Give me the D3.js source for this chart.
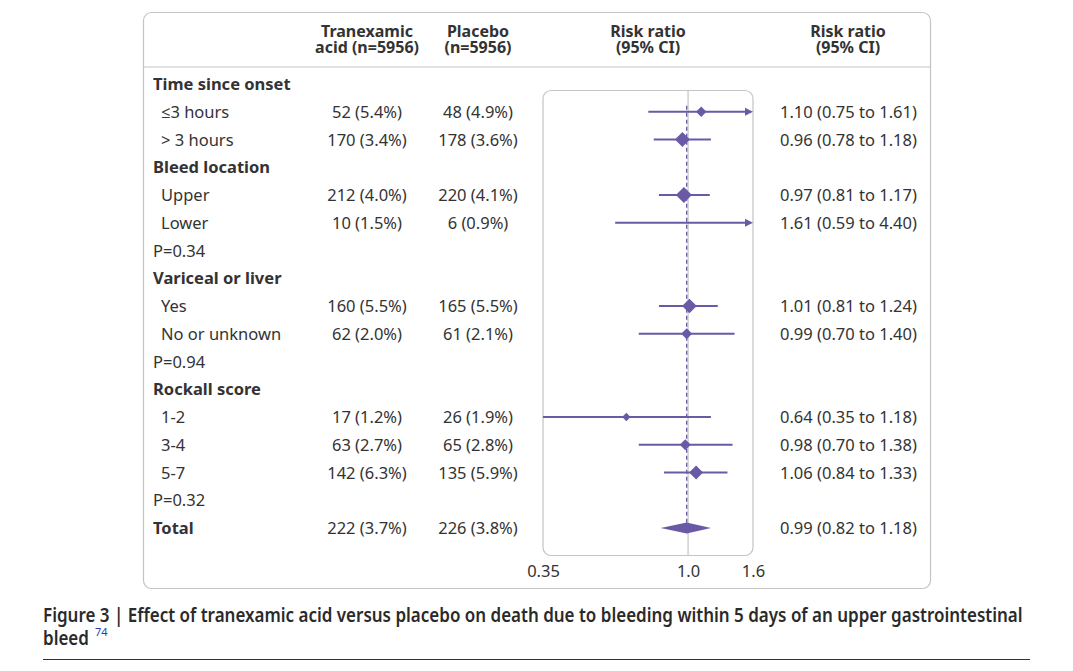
<!DOCTYPE html>
<html>
<head>
<meta charset="utf-8">
<script src="https://cdn.jsdelivr.net/npm/d3@7"></script>
<style>
  body { margin: 0; background: #fff; }
  svg text { font-family: "Noto Sans", "Open Sans", sans-serif; fill: #333; }
</style>
</head>
<body>
<div id="chart"></div>
<script>
// table rows, top to bottom
const labels = ["Time since onset", "≤3 hours", "> 3 hours", "Bleed location", "Upper", "Lower", "P=0.34",
  "Variceal or liver", "Yes", "No or unknown", "P=0.94", "Rockall score", "1-2", "3-4", "5-7", "P=0.32", "Total"];
const rowTypes = ["head", "sub", "sub", "head", "sub", "sub", "p",
  "head", "sub", "sub", "p", "head", "sub", "sub", "sub", "p", "total"];
const tranexamic = ["", "52 (5.4%)", "170 (3.4%)", "", "212 (4.0%)", "10 (1.5%)", "",
  "", "160 (5.5%)", "62 (2.0%)", "", "", "17 (1.2%)", "63 (2.7%)", "142 (6.3%)", "", "222 (3.7%)"];
const placebo = ["", "48 (4.9%)", "178 (3.6%)", "", "220 (4.1%)", "6 (0.9%)", "",
  "", "165 (5.5%)", "61 (2.1%)", "", "", "26 (1.9%)", "65 (2.8%)", "135 (5.9%)", "", "226 (3.8%)"];
const rr = [null, 1.10, 0.96, null, 0.97, 1.61, null, null, 1.01, 0.99, null, null, 0.64, 0.98, 1.06, null, 0.99];
const lower = [null, 0.75, 0.78, null, 0.81, 0.59, null, null, 0.81, 0.70, null, null, 0.35, 0.70, 0.84, null, 0.82];
const upper = [null, 1.61, 1.18, null, 1.17, 4.40, null, null, 1.24, 1.40, null, null, 1.18, 1.38, 1.33, null, 1.18];
const tickValues = [0.35, 1.0, 1.6];

const W = 1073, H = 671;
const purple = "#6a5aa6";
const fmt = d3.format(".2f");
const fs = 16.5;

const svg = d3.select("#chart").append("svg")
  .attr("width", W)
  .attr("height", H);

// outer frame
svg.append("rect")
  .attr("x", 143.5).attr("y", 12.5)
  .attr("width", 787).attr("height", 576)
  .attr("rx", 8)
  .attr("fill", "none")
  .attr("stroke", "#c4c4c4")
  .attr("stroke-width", 1.2);

svg.append("line")
  .attr("x1", 144).attr("x2", 930)
  .attr("y1", 67).attr("y2", 67)
  .attr("stroke", "#c4c4c4")
  .attr("stroke-width", 1.2);

// column headers
const headers = [
  { x: 367, lines: ["Tranexamic", "acid (n=5956)"] },
  { x: 478, lines: ["Placebo", "(n=5956)"] },
  { x: 648, lines: ["Risk ratio", "(95% CI)"] },
  { x: 848, lines: ["Risk ratio", "(95% CI)"] }
];
headers.forEach(h => {
  const t = svg.append("text")
    .attr("y", 37)
    .attr("text-anchor", "middle")
    .attr("font-size", 16)
    .attr("font-weight", "bold");
  h.lines.forEach((line, i) => {
    t.append("tspan")
      .attr("x", h.x)
      .attr("dy", i === 0 ? 0 : 16)
      .text(line);
  });
});

const y = d3.scaleLinear().domain([0, labels.length - 1]).range([84, 528]);
const x = d3.scaleLog().domain([0.35, 1.6]).range([543, 753]);

// plot box
svg.append("rect")
  .attr("x", 543).attr("y", 90.5)
  .attr("width", 210).attr("height", 465)
  .attr("rx", 8)
  .attr("fill", "none")
  .attr("stroke", "#c4c4c4")
  .attr("stroke-width", 1.2);

svg.append("line")
  .attr("x1", x(1)).attr("x2", x(1))
  .attr("y1", 91).attr("y2", 555)
  .attr("stroke", "#c4c4c4")
  .attr("stroke-width", 1.2);

// overall estimate reference
svg.append("line")
  .attr("x1", x(rr[16])).attr("x2", x(rr[16]))
  .attr("y1", y(1) - 6).attr("y2", y(16))
  .attr("stroke", purple)
  .attr("stroke-width", 1.3)
  .attr("stroke-dasharray", "4,3");

// text columns
const rows = labels.map((d, i) => ({ i, label: d, type: rowTypes[i] }));
svg.selectAll(".label")
  .data(rows)
  .enter().append("text")
  .attr("class", "label")
  .attr("x", d => d.type === "sub" ? 161 : 153)
  .attr("y", d => y(d.i) + 6)
  .attr("font-size", fs)
  .attr("font-weight", d => (d.type === "head" || d.type === "total") ? "bold" : "normal")
  .text(d => d.label);

svg.selectAll(".tx")
  .data(tranexamic)
  .enter().append("text")
  .attr("x", 367)
  .attr("y", (d, i) => y(i) + 6)
  .attr("text-anchor", "middle")
  .attr("font-size", fs)
  .text(d => d);

svg.selectAll(".pl")
  .data(placebo)
  .enter().append("text")
  .attr("x", 478)
  .attr("y", (d, i) => y(i) + 6)
  .attr("text-anchor", "middle")
  .attr("font-size", fs)
  .text(d => d);

svg.selectAll(".rrtext")
  .data(rr)
  .enter().append("text")
  .attr("x", 780)
  .attr("y", (d, i) => y(i) + 6)
  .attr("font-size", fs)
  .text((d, i) => d == null ? "" : `${fmt(d)} (${fmt(lower[i])} to ${fmt(upper[i])})`);

// forest marks
const est = rr.map((d, i) => ({ i, rr: d, lo: lower[i], hi: upper[i] }))
  .filter(d => d.rr != null && rowTypes[d.i] !== "total");

// marker size from precision of each estimate
const prec = d => 1 / Math.log(d.hi / d.lo);
const size = d3.scaleLinear().domain([0.8, 2.7]).range([4.2, 8]).clamp(true);

const [xMin, xMax] = x.domain();
const g = svg.append("g");

est.forEach(d => {
  const yy = y(d.i);
  const x1 = x(Math.max(d.lo, xMin)), x2 = x(Math.min(d.hi, xMax));
  g.append("line")
    .attr("x1", x1).attr("x2", d.hi > xMax ? x2 - 5 : x2)
    .attr("y1", yy).attr("y2", yy)
    .attr("stroke", purple)
    .attr("stroke-width", 1.8);
  if (d.hi > xMax) {
    g.append("path")
      .attr("d", `M${x2},${yy} L${x2 - 8},${yy - 4} L${x2 - 8},${yy + 4} Z`)
      .attr("fill", purple);
  }
  if (d.rr <= xMax && d.rr >= xMin) {
    const s = size(prec(d));
    const cx = x(d.rr);
    g.append("path")
      .attr("d", `M${cx - s},${yy} L${cx},${yy - s} L${cx + s},${yy} L${cx},${yy + s} Z`)
      .attr("fill", purple);
  }
});

// total diamond
const ti = rowTypes.indexOf("total");
g.append("path")
  .attr("d", `M${x(lower[ti])},${y(ti)} L${x(rr[ti])},${y(ti) - 5.5} L${x(upper[ti])},${y(ti)} L${x(rr[ti])},${y(ti) + 5.5} Z`)
  .attr("fill", purple);

// axis
const axis = svg.append("g")
  .attr("transform", "translate(0,562)")
  .call(d3.axisBottom(x).tickValues(tickValues).tickSize(0).tickFormat(d => d === 1 ? "1.0" : d3.format("")(d)));
axis.select(".domain").remove();
axis.selectAll("text")
  .attr("font-size", fs)
  .attr("font-family", "Noto Sans, Open Sans, sans-serif")
  .attr("fill", "#333");

// caption: no condensed face installed, so squeeze a semibold face horizontally
const capSize = 19;
const capG = svg.append("g");
const cap1 = capG.append("text")
  .attr("y", 622)
  .attr("font-size", capSize)
  .attr("font-weight", 600)
  .style("fill", "#2a2a2a")
  .text("Figure 3 | Effect of tranexamic acid versus placebo on death due to bleeding within 5 days of an upper gastrointestinal");
const squeeze = 980 / cap1.node().getComputedTextLength();
capG.attr("transform", `translate(43,0) scale(${squeeze},1)`);

const cap2 = capG.append("text")
  .attr("y", 645)
  .attr("font-size", capSize)
  .attr("font-weight", 600)
  .style("fill", "#2a2a2a")
  .text("bleed");
const bleedW = cap2.node().getComputedTextLength() * squeeze;

svg.append("text")
  .attr("x", 43 + bleedW + 6)
  .attr("y", 636)
  .attr("font-size", 11)
  .style("fill", "#2b3fa8")
  .text("74");

svg.append("line")
  .attr("x1", 43).attr("x2", 1030)
  .attr("y1", 659.5).attr("y2", 659.5)
  .attr("stroke", "#333")
  .attr("stroke-width", 1.2);
</script>
</body>
</html>
